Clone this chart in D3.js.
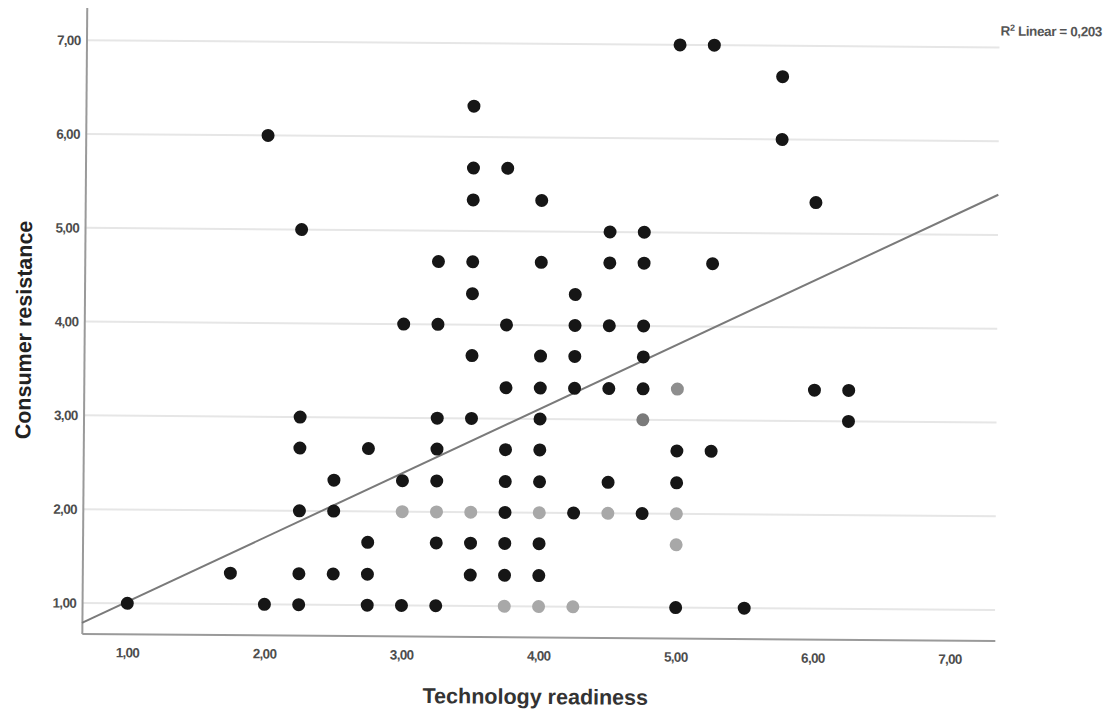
<!DOCTYPE html>
<html>
<head>
<meta charset="utf-8">
<script src="https://cdn.jsdelivr.net/npm/d3@7"></script>
<style>
	body { margin: 0; background: #fff; }
	svg { display: block; }
	text { font-family: "Liberation Sans", Arial, sans-serif; }
</style>
</head>
<body>
<div class="chart"></div>
<script>
// values (x = technology readiness, y = consumer resistance)
var readiness = [
	5, 5.25,
	5.75,
	3.5,
	2, 5.75,
	3.5, 3.75,
	3.5, 4, 6,
	2.25, 4.5, 4.75,
	3.25, 3.5, 4, 4.5, 4.75, 5.25,
	3.5, 4.25,
	3, 3.25, 3.75, 4.25, 4.5, 4.75,
	3.5, 4, 4.25, 4.75,
	3.75, 4, 4.25, 4.5, 4.75, 5, 6, 6.25,
	2.25, 3.25, 3.5, 4, 4.75, 6.25,
	2.25, 2.75, 3.25, 3.75, 4, 5, 5.25,
	2.5, 3, 3.25, 3.75, 4, 4.5, 5,
	2.25, 2.5, 3, 3.25, 3.5, 3.75, 4, 4.25, 4.5, 4.75, 5,
	2.75, 3.25, 3.5, 3.75, 4, 5,
	1.75, 2.25, 2.5, 2.75, 3.5, 3.75, 4,
	1, 2, 2.25, 2.75, 3, 3.25, 3.75, 4, 4.25, 5, 5.5
];
var resistance = [
	7, 7,
	6.67,
	6.33,
	6, 6,
	5.67, 5.67,
	5.33, 5.33, 5.33,
	5, 5, 5,
	4.67, 4.67, 4.67, 4.67, 4.67, 4.67,
	4.33, 4.33,
	4, 4, 4, 4, 4, 4,
	3.67, 3.67, 3.67, 3.67,
	3.33, 3.33, 3.33, 3.33, 3.33, 3.33, 3.33, 3.33,
	3, 3, 3, 3, 3, 3,
	2.67, 2.67, 2.67, 2.67, 2.67, 2.67, 2.67,
	2.33, 2.33, 2.33, 2.33, 2.33, 2.33, 2.33,
	2, 2, 2, 2, 2, 2, 2, 2, 2, 2, 2,
	1.67, 1.67, 1.67, 1.67, 1.67, 1.67,
	1.33, 1.33, 1.33, 1.33, 1.33, 1.33, 1.33,
	1, 1, 1, 1, 1, 1, 1, 1, 1, 1, 1
];
// 0 = black dot, 1 = light grey, 2 = mid grey, 3 = dark grey (scan tones)
var tone = [
	0, 0,
	0,
	0,
	0, 0,
	0, 0,
	0, 0, 0,
	0, 0, 0,
	0, 0, 0, 0, 0, 0,
	0, 0,
	0, 0, 0, 0, 0, 0,
	0, 0, 0, 0,
	0, 0, 0, 0, 0, 2, 0, 0,
	0, 0, 0, 0, 3, 0,
	0, 0, 0, 0, 0, 0, 0,
	0, 0, 0, 0, 0, 0, 0,
	0, 0, 1, 1, 1, 0, 1, 0, 1, 0, 1,
	0, 0, 0, 0, 0, 1,
	0, 0, 0, 0, 0, 0, 0,
	0, 0, 0, 0, 0, 0, 1, 1, 1, 0, 0
];

var xTicks = [1, 2, 3, 4, 5, 6, 7];
var yTicks = [1, 2, 3, 4, 5, 6, 7];
var fitIntercept = 0.32,
	fitSlope = 0.697,
	rSquared = "0,203";

var toneColors = ["#161616", "#a8a8a8", "#8e8e8e", "#7a7a7a"];

var width = 1120, height = 716;
var margin = {left: 84, right: 123, top: 11, bottom: 79};

var svg = d3.select(".chart").append("svg")
		.attr("width", width)
		.attr("height", height);

// the scan is tilted a little clockwise
var g = svg.append("g")
		.attr("transform", "rotate(0.45, 540, 360)");

var x = d3.scaleLinear()
	.domain([0.67, 7.33])
	.range([margin.left, width - margin.right]);

var y = d3.scaleLinear()
	.domain([0.675, 7.35])
	.range([height - margin.bottom, margin.top]);

var comma = function(d){ return d3.format(".2f")(d).replace(".", ","); };

// gridlines
g.selectAll(".grid")
	.data(yTicks)
	.enter().append("line")
		.attr("class", "grid")
		.attr("x1", x.range()[0])
		.attr("x2", x.range()[1])
		.attr("y1", function(d){ return y(d); })
		.attr("y2", function(d){ return y(d); })
		.style("stroke", "#e6e6e6")
		.style("stroke-width", 2);

// axes
var xAxis = g.append("g")
	.attr("transform", "translate(0," + y.range()[0] + ")")
	.call(d3.axisBottom(x).tickValues(xTicks).tickFormat(comma).tickSize(0).tickPadding(14));

var yAxis = g.append("g")
	.attr("transform", "translate(" + x.range()[0] + ",0)")
	.call(d3.axisLeft(y).tickValues(yTicks).tickFormat(comma).tickSize(0).tickPadding(6));

[xAxis, yAxis].forEach(function(a){
	a.select(".domain")
		.style("stroke", "#9a9a9a")
		.style("stroke-width", 2);
	a.selectAll("text")
		.style("font-size", "13.5px")
		.style("font-weight", "bold")
		.style("fill", "#4d4d4d")
		.style("letter-spacing", "-0.7px");
});

// fit line
g.append("line")
	.attr("x1", x(x.domain()[0]))
	.attr("y1", y(fitIntercept + fitSlope * x.domain()[0]))
	.attr("x2", x(x.domain()[1]))
	.attr("y2", y(fitIntercept + fitSlope * x.domain()[1]))
	.style("stroke", "#7a7a7a")
	.style("stroke-width", 2);

// points
var points = readiness.map(function(d, i){
	return {x: d, y: resistance[i], tone: tone[i]};
});

g.selectAll(".dot")
	.data(points)
	.enter().append("circle")
		.attr("class", "dot")
		.attr("cx", function(d){ return x(d.x); })
		.attr("cy", function(d){ return y(d.y); })
		.attr("r", 6.5)
		.style("fill", function(d){ return toneColors[d.tone]; });

// titles
g.append("text")
	.attr("x", 538)
	.attr("y", 704)
	.attr("text-anchor", "middle")
	.style("font-size", "21.5px")
	.style("font-weight", "bold")
	.style("fill", "#333")
	.text("Technology readiness");

g.append("text")
	.attr("transform", "translate(31, 334) rotate(-90)")
	.attr("text-anchor", "middle")
	.style("font-size", "21.5px")
	.style("font-weight", "bold")
	.style("fill", "#222")
	.text("Consumer resistance");

var r2 = g.append("text")
	.attr("x", 998)
	.attr("y", 32)
	.style("font-size", "13.5px")
	.style("font-weight", "bold")
	.style("fill", "#555")
	.style("letter-spacing", "-0.4px");
r2.append("tspan").text("R");
r2.append("tspan").attr("dy", -5).style("font-size", "9px").text("2");
r2.append("tspan").attr("dy", 5).text(" Linear = " + rSquared);
</script>
</body>
</html>
